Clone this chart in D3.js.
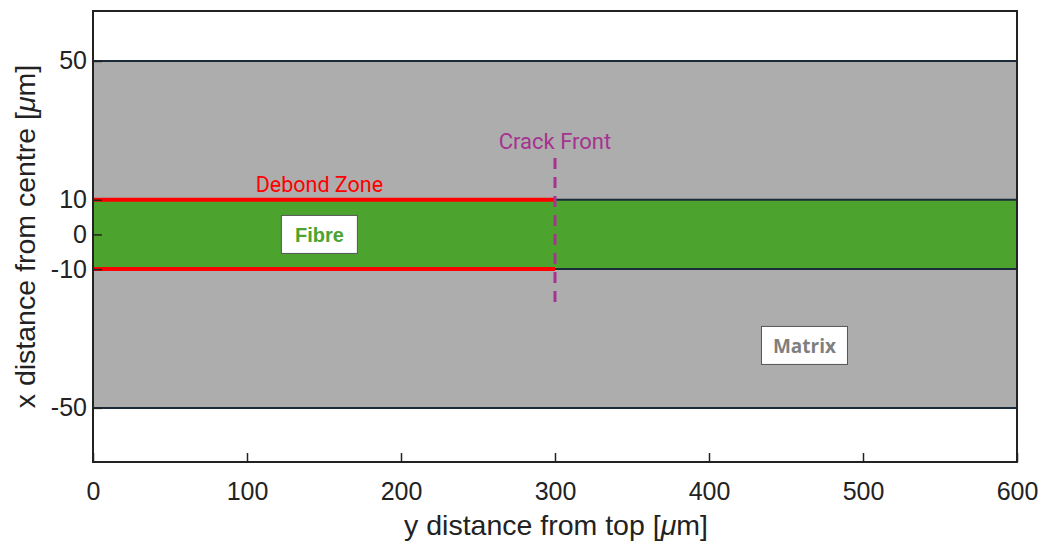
<!DOCTYPE html>
<html>
<head>
<meta charset="utf-8">
<script src="https://cdn.jsdelivr.net/npm/d3@7"></script>
<style>
  html, body { margin: 0; padding: 0; background: #fff; }
  svg { display: block; }
  text { font-family: "Liberation Sans", Arial, sans-serif; }
</style>
</head>
<body>
<svg id="chart" width="1040" height="542"></svg>
<script>
// Geometry of the debonded fibre/matrix model (micrometres)
const xTicks = [0, 100, 200, 300, 400, 500, 600];
const yTicks = [-50, -10, 0, 10, 50];
const xDomain = [0, 600];
const yDomain = [-65.6, 64.4];

// Regions: [x0, x1, y0, y1]
const matrixBand = [0, 600, -50, 50];
const fibreBand = [0, 600, -10, 10];
// Debonded interface along the fibre edges
const debondX = [0, 300];
const debondY = [10, -10];
// Crack front position and extent
const crackX = 300;
const crackY = [22, -20];

// Annotations: [text, x, y]
const debondLabel = ["Debond Zone", 147, 14.5];
const crackLabel = ["Crack Front", 300, 26.8];
const fibreLabel = ["Fibre", 147, 0];
const matrixLabel = ["Matrix", 462, -32];

const svg = d3.select("#chart");
const plotL = 93, plotR = 1017, plotT = 11, plotB = 462;

const x = d3.scaleLinear().domain(xDomain).range([plotL, plotR]);
const y = d3.scaleLinear().domain(yDomain).range([plotB, plotT]);

const edge = "#1b2b3a";

// Matrix
svg.append("rect")
  .attr("x", x(matrixBand[0])).attr("width", x(matrixBand[1]) - x(matrixBand[0]))
  .attr("y", y(matrixBand[3])).attr("height", y(matrixBand[2]) - y(matrixBand[3]))
  .attr("fill", "#adadad");
// Fibre
svg.append("rect")
  .attr("x", x(fibreBand[0])).attr("width", x(fibreBand[1]) - x(fibreBand[0]))
  .attr("y", y(fibreBand[3])).attr("height", y(fibreBand[2]) - y(fibreBand[3]))
  .attr("fill", "#4ca42f");

// Region boundaries
[matrixBand[2], matrixBand[3], fibreBand[2], fibreBand[3]].forEach(v => {
  svg.append("line")
    .attr("x1", x(xDomain[0])).attr("x2", x(xDomain[1]))
    .attr("y1", y(v)).attr("y2", y(v))
    .attr("stroke", edge).attr("stroke-width", 2);
});

// Debond zone
debondY.forEach(v => {
  svg.append("line")
    .attr("x1", x(debondX[0])).attr("x2", x(debondX[1]))
    .attr("y1", y(v)).attr("y2", y(v))
    .attr("stroke", "#ff0000").attr("stroke-width", 4);
});

// Crack front
svg.append("line")
  .attr("x1", x(crackX)).attr("x2", x(crackX))
  .attr("y1", y(crackY[0])).attr("y2", y(crackY[1]))
  .attr("stroke", "#a5338f").attr("stroke-width", 3)
  .attr("stroke-dasharray", "11,8");

// Text annotations
svg.append("text")
  .attr("x", x(debondLabel[1])).attr("y", y(debondLabel[2]))
  .attr("text-anchor", "middle").attr("dominant-baseline", "central")
  .style("font-family", "Roboto, sans-serif").style("font-size", "21.5px")
  .attr("fill", "#ff0000").text(debondLabel[0]);
svg.append("text")
  .attr("x", x(crackLabel[1])).attr("y", y(crackLabel[2]))
  .attr("text-anchor", "middle").attr("dominant-baseline", "central")
  .style("font-family", "Roboto, sans-serif").style("font-size", "22px")
  .attr("fill", "#a5338f").text(crackLabel[0]);

function boxLabel(lab, color, w, h, family, size) {
  const cx = x(lab[1]), cy = y(lab[2]);
  svg.append("rect")
    .attr("x", cx - w / 2).attr("y", cy - h / 2)
    .attr("width", w).attr("height", h)
    .attr("fill", "#fff").attr("stroke", "#555").attr("stroke-width", 1);
  svg.append("text")
    .attr("x", cx).attr("y", cy + 1)
    .attr("text-anchor", "middle").attr("dominant-baseline", "central")
    .style("font-family", family).style("font-weight", "bold")
    .style("font-size", size)
    .attr("fill", color).text(lab[0]);
}
boxLabel(fibreLabel, "#4ca42f", 76, 38, "'Liberation Sans', Arial, sans-serif", "20px");
boxLabel(matrixLabel, "#7f7f7f", 86, 38, "'Open Sans', sans-serif", "19px");

// Frame
svg.append("rect")
  .attr("x", plotL).attr("y", plotT).attr("width", plotR - plotL).attr("height", plotB - plotT)
  .attr("fill", "none").attr("stroke", "#222").attr("stroke-width", 2);

// Axes (plain hyphen for negative numbers)
const fmt = d => String(d);
const xAxis = d3.axisBottom(x).tickValues(xTicks).tickFormat(fmt)
  .tickSize(-9).tickPadding(20).tickSizeOuter(0);
const gx = svg.append("g").attr("transform", `translate(0,${plotB})`).call(xAxis);
const yAxis = d3.axisLeft(y).tickValues(yTicks).tickFormat(fmt)
  .tickSize(-9).tickPadding(6).tickSizeOuter(0);
const gy = svg.append("g").attr("transform", `translate(${plotL},0)`).call(yAxis);
[gx, gy].forEach(g => {
  g.select(".domain").remove();
  g.selectAll(".tick line").attr("stroke", "#222").attr("stroke-width", 1.5);
  g.selectAll(".tick text")
    .style("font-family", "'Liberation Sans', Arial, sans-serif")
    .style("font-size", "25px").attr("fill", "#222");
});

// Axis titles
const xt = svg.append("text")
  .attr("x", (plotL + plotR) / 2 + 1).attr("y", 535)
  .attr("text-anchor", "middle").style("font-size", "28.5px").attr("fill", "#222");
xt.append("tspan").text("y distance from top [");
xt.append("tspan").style("font-style", "italic").text("μ");
xt.append("tspan").text("m]");

const yt = svg.append("text")
  .attr("transform", `translate(35,${(plotT + plotB) / 2}) rotate(-90)`)
  .attr("text-anchor", "middle").style("font-size", "28.5px").attr("fill", "#222");
yt.append("tspan").text("x distance from centre [");
yt.append("tspan").style("font-style", "italic").text("μ");
yt.append("tspan").text("m]");
</script>
</body>
</html>
